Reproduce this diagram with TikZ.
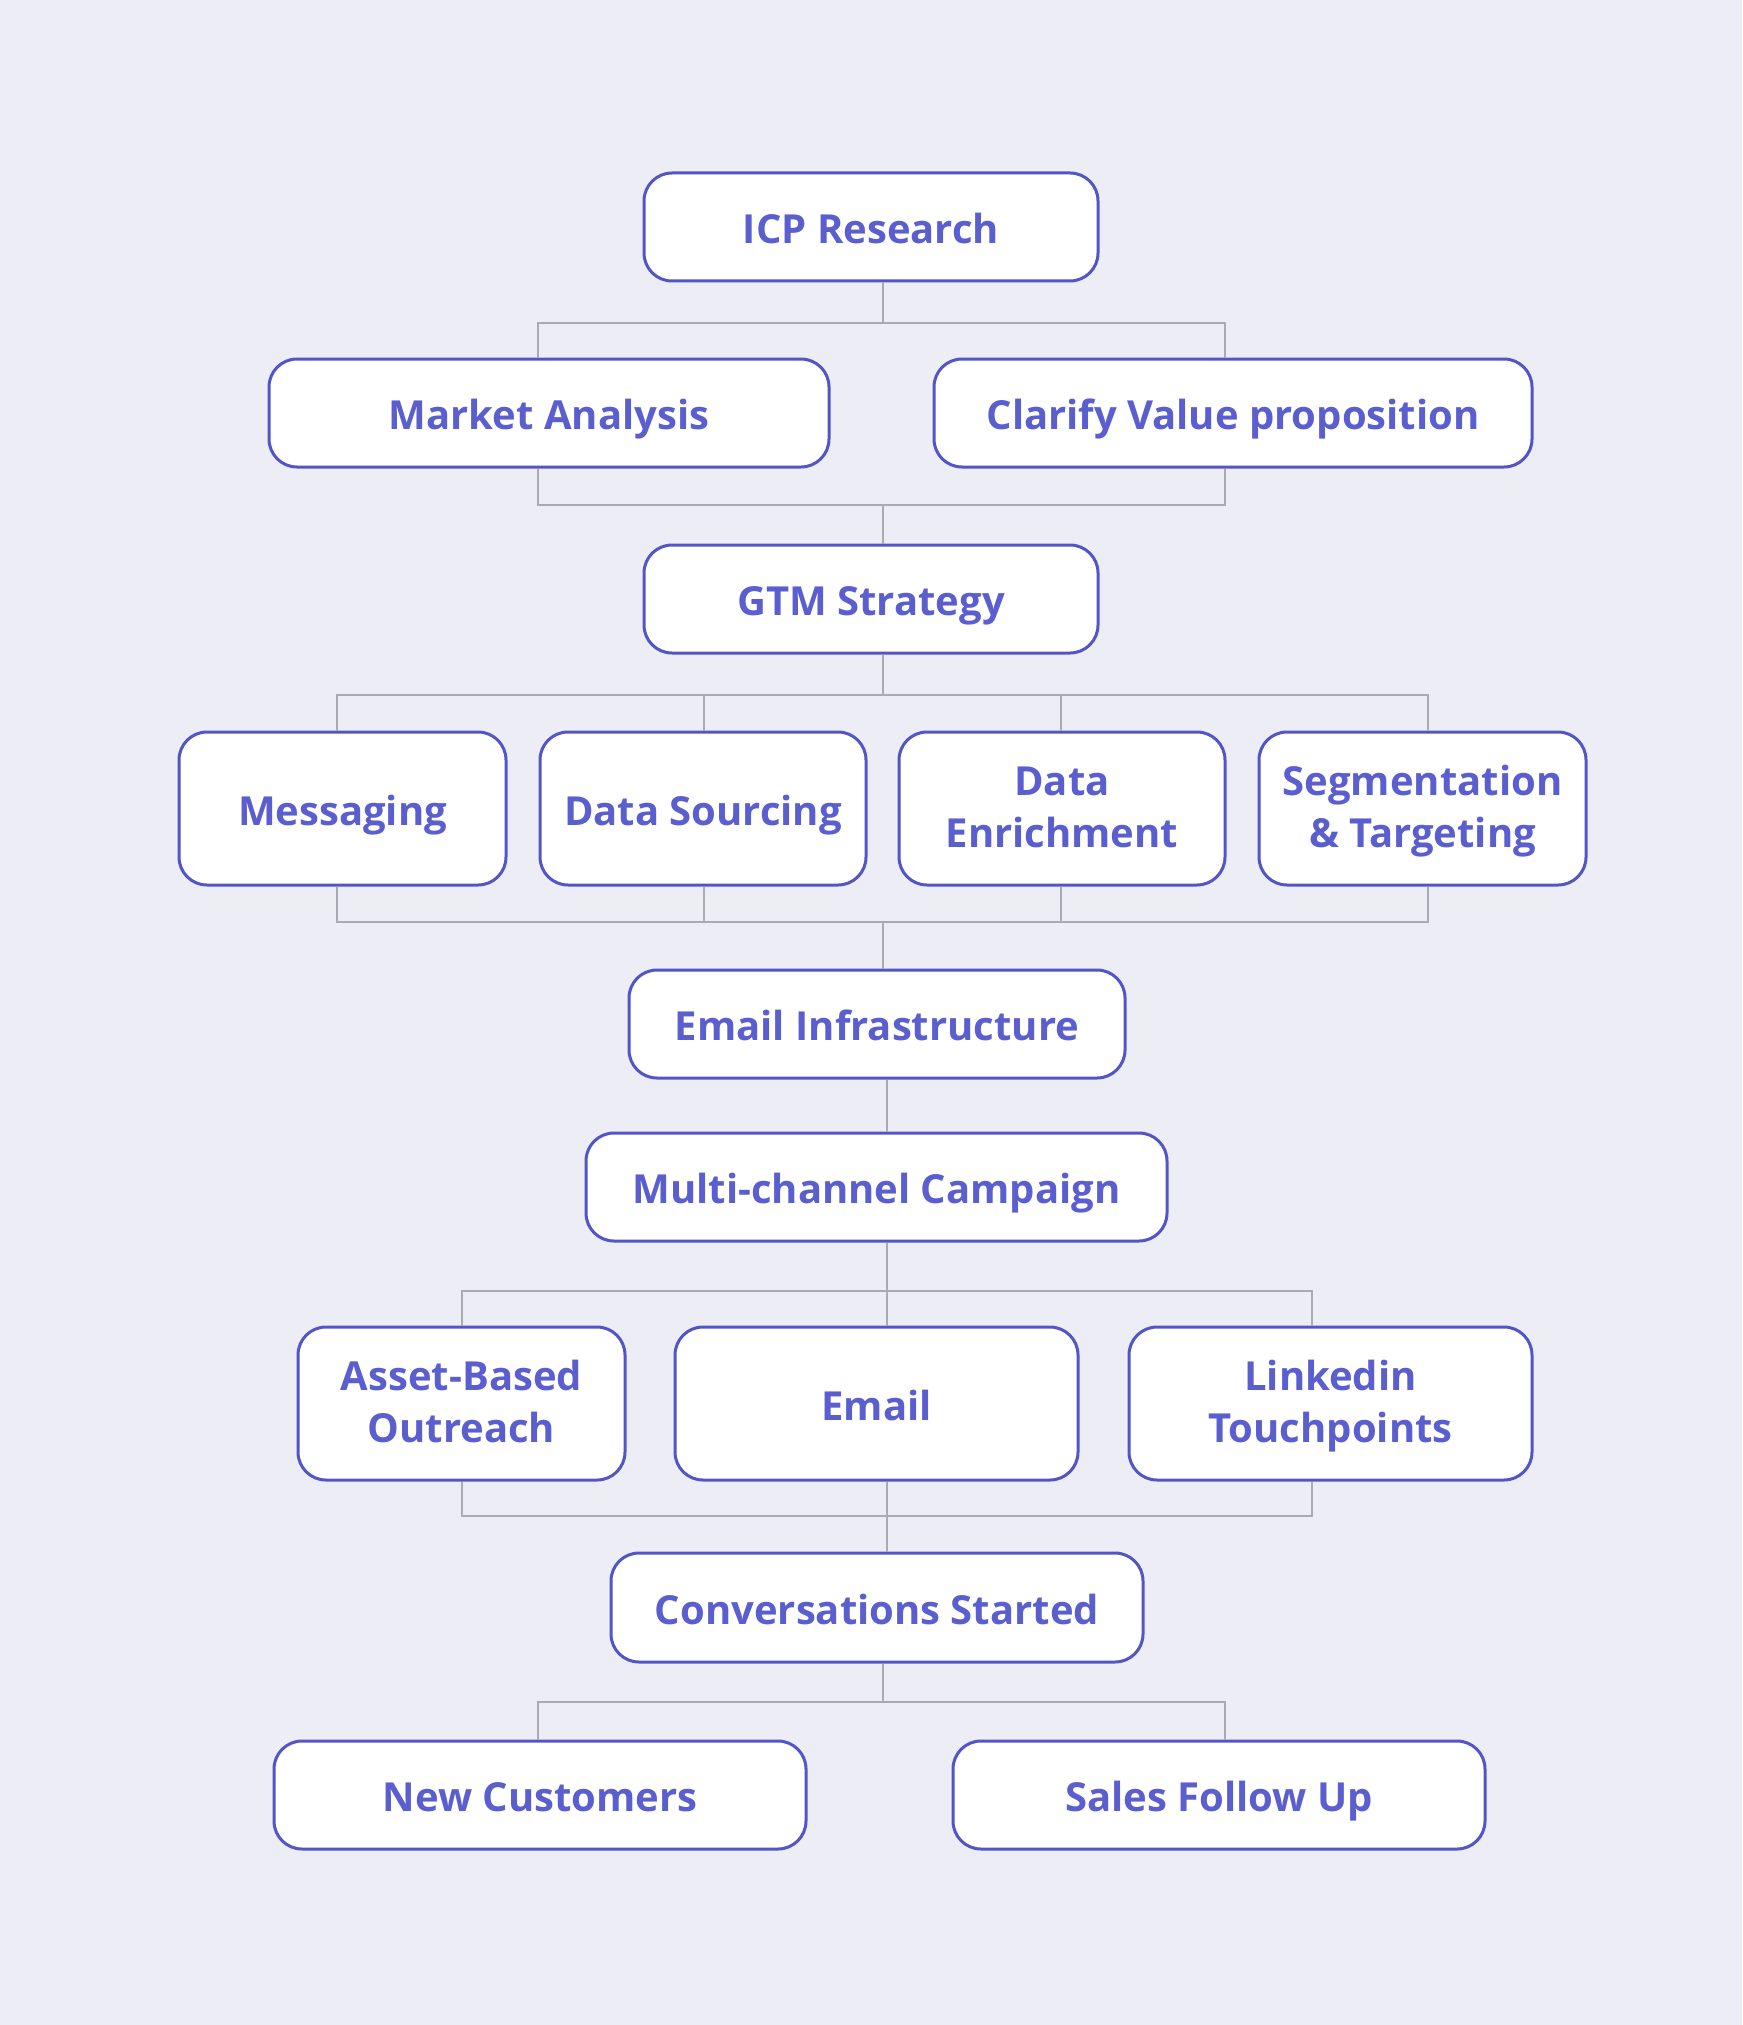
\documentclass[tikz,border=0pt]{standalone}
\usepackage{fontspec}
\setmainfont{Open Sans}
\definecolor{bgc}{HTML}{EDEEF5}
\definecolor{edge}{HTML}{5355C6}
\definecolor{txt}{HTML}{5A5ECF}
\definecolor{wire}{HTML}{ABABAF}
\tikzset{
  box/.style={draw=edge, line width=3pt, fill=white, rounded corners=28pt,
    inner sep=0pt, align=center, text=txt,
    font=\fontsize{40}{52}\selectfont\bfseries, minimum height=108pt,
    text height=33pt, text depth=0pt},
  tall/.style={minimum height=153pt},
  twoline/.style={text height=78pt, text depth=0pt},
  conn/.style={draw=wire, line width=2pt}
}
\begin{document}
\begin{tikzpicture}[x=1pt,y=-1pt]
\fill[bgc] (0,0) rectangle (1742,2025);
\useasboundingbox (0,0) rectangle (1742,2025);
% nodes
\node[box, minimum width=454pt] (icp) at (871,227) {ICP Research};
\node[box, minimum width=560pt] (ma) at (549,413) {Market Analysis};
\node[box, minimum width=598pt] (cvp) at (1233,413) {Clarify Value proposition};
\node[box, minimum width=454pt] (gtm) at (871,599) {GTM Strategy};
\node[box, tall, minimum width=327pt] (msg) at (342.5,808.5) {Messaging};
\node[box, tall, minimum width=326pt] (ds) at (703,808.5) {Data Sourcing};
\node[box, tall, twoline, minimum width=326pt] (de) at (1062,808.5) {Data\\Enrichment};
\node[box, tall, twoline, minimum width=327pt] (seg) at (1422.5,808.5) {Segmentation\\\& Targeting};
\node[box, minimum width=496pt] (ei) at (877,1024) {Email Infrastructure};
\node[box, minimum width=581pt] (mc) at (876.5,1187) {Multi-channel Campaign};
\node[box, tall, twoline, minimum width=327pt] (abo) at (461.5,1403.5) {Asset-Based\\Outreach};
\node[box, tall, minimum width=403pt] (em) at (876.5,1403.5) {Email};
\node[box, tall, twoline, minimum width=403pt] (li) at (1330.5,1403.5) {Linkedin\\Touchpoints};
\node[box, minimum width=532pt, minimum height=109pt] (cs) at (877,1607.5) {Conversations Started};
\node[box, minimum width=532pt] (nc) at (540,1795) {New Customers};
\node[box, minimum width=532pt] (sfu) at (1219,1795) {Sales Follow Up};
% connector guide coordinates
\coordinate (cT) at (883,0);
\coordinate (cT2) at (887,0);
\coordinate (cL) at (538,0);
\coordinate (cR) at (1225,0);
\coordinate (c1) at (337,0);
\coordinate (c2) at (704,0);
\coordinate (c3) at (1061,0);
\coordinate (c4) at (1428,0);
\coordinate (d1) at (462,0);
\coordinate (d3) at (1312,0);
\coordinate (yA) at (0,323);
\coordinate (yB) at (0,505);
\coordinate (yC) at (0,695);
\coordinate (yD) at (0,922);
\coordinate (yE) at (0,1291);
\coordinate (yF) at (0,1516);
\coordinate (yG) at (0,1702);
% level 1
\draw[conn] (icp.south -| cT) -- (cT |- yA);
\draw[conn] (ma.north -| cL) -- (cL |- yA) -- (cR |- yA) -- (cvp.north -| cR);
% level 2
\draw[conn] (ma.south -| cL) -- (cL |- yB) -- (cR |- yB) -- (cvp.south -| cR);
\draw[conn] (cT |- yB) -- (gtm.north -| cT);
% level 3
\draw[conn] (gtm.south -| cT) -- (cT |- yC);
\draw[conn] (msg.north -| c1) -- (c1 |- yC) -- (c4 |- yC) -- (seg.north -| c4);
\draw[conn] (ds.north -| c2) -- (c2 |- yC);
\draw[conn] (de.north -| c3) -- (c3 |- yC);
% level 4
\draw[conn] (msg.south -| c1) -- (c1 |- yD) -- (c4 |- yD) -- (seg.south -| c4);
\draw[conn] (ds.south -| c2) -- (c2 |- yD);
\draw[conn] (de.south -| c3) -- (c3 |- yD);
\draw[conn] (cT |- yD) -- (ei.north -| cT);
% level 5
\draw[conn] (ei.south -| cT2) -- (mc.north -| cT2);
% level 6
\draw[conn] (mc.south -| cT2) -- (cT2 |- yE);
\draw[conn] (abo.north -| d1) -- (d1 |- yE) -- (d3 |- yE) -- (li.north -| d3);
\draw[conn] (em.north -| cT2) -- (cT2 |- yE);
% level 7
\draw[conn] (abo.south -| d1) -- (d1 |- yF) -- (d3 |- yF) -- (li.south -| d3);
\draw[conn] (em.south -| cT2) -- (cT2 |- yF) -- (cs.north -| cT2);
% level 8
\draw[conn] (cs.south -| cT) -- (cT |- yG);
\draw[conn] (nc.north -| cL) -- (cL |- yG) -- (cR |- yG) -- (sfu.north -| cR);
\end{tikzpicture}
\end{document}
